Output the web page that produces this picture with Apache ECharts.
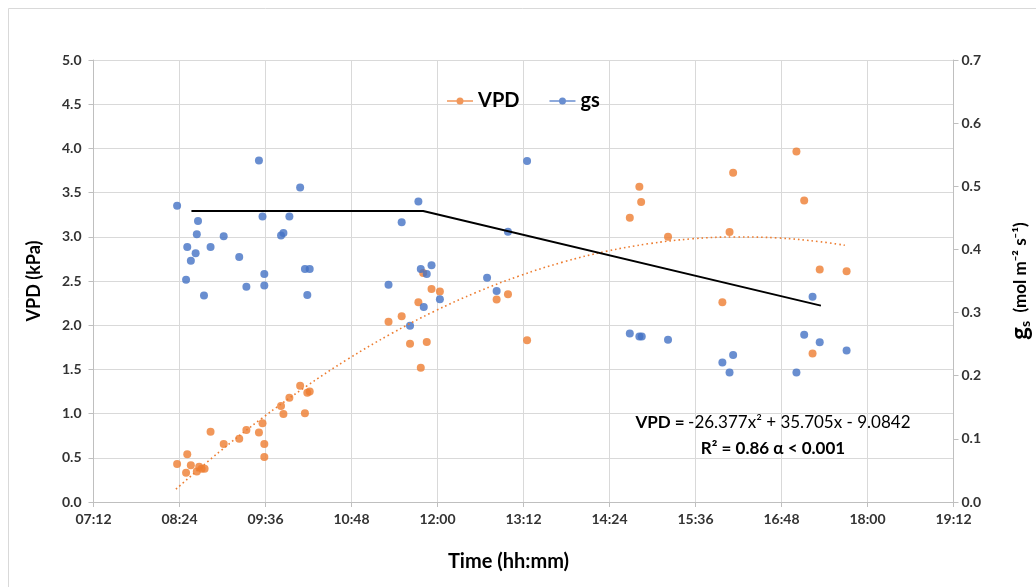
<!DOCTYPE html>
<html><head><meta charset="utf-8">
<script src="https://cdn.jsdelivr.net/npm/echarts@6/dist/echarts.min.js"></script>
<style>html,body{margin:0;padding:0;background:#fff}#c{width:1036px;height:587px}</style>
</head><body><div id="c"></div>
<script>
// Time in minutes since midnight
const vpdTimes = [502, 509.5, 510.5, 513.5, 518.5, 520.5, 522.5, 525, 530, 541, 554, 560, 570.5, 573.5, 575, 575, 589, 591, 596, 605, 609, 611, 613, 679, 690, 697, 704, 706, 708, 711, 715, 722, 769.5, 779, 795, 881, 889, 890.5, 913, 958.5, 964.5, 967.5, 1020.5, 1027, 1034, 1040, 1062.5];
const vpdValues = [0.43, 0.33, 0.54, 0.415, 0.345, 0.40, 0.375, 0.375, 0.795, 0.655, 0.715, 0.815, 0.785, 0.89, 0.655, 0.51, 1.085, 0.995, 1.18, 1.315, 1.005, 1.235, 1.25, 2.04, 2.10, 1.79, 2.26, 1.52, 2.59, 1.81, 2.41, 2.38, 2.29, 2.35, 1.83, 3.215, 3.565, 3.395, 3.0, 2.26, 3.055, 3.725, 3.965, 3.41, 1.68, 2.63, 2.61];
const gsTimes = [502, 509.5, 510.5, 513.5, 517.5, 518.5, 519.5, 524.5, 530, 541, 554, 560, 570.5, 573.5, 575, 575, 589, 591, 596, 605, 609, 611, 613, 679, 690, 697, 704, 706, 708.5, 711, 715, 722, 761.5, 769.5, 779, 795, 881, 889, 891, 913, 958.5, 964.5, 967.5, 1020.5, 1027, 1034, 1040, 1062.5];
const gsValues = [0.469, 0.352, 0.404, 0.382, 0.394, 0.424, 0.445, 0.327, 0.404, 0.421, 0.388, 0.341, 0.541, 0.452, 0.361, 0.343, 0.422, 0.426, 0.452, 0.498, 0.369, 0.328, 0.369, 0.344, 0.443, 0.279, 0.476, 0.369, 0.309, 0.361, 0.375, 0.321, 0.355, 0.334, 0.428, 0.540, 0.267, 0.262, 0.262, 0.257, 0.221, 0.205, 0.233, 0.205, 0.265, 0.325, 0.253, 0.240];
// Dotted polynomial trendline of VPD
const trendTimes = [501, 537, 573, 609, 645, 681, 717, 753, 789, 825, 861, 897, 933, 969, 1005, 1041, 1061];
const trendValues = [0.145, 0.563, 0.947, 1.298, 1.617, 1.902, 2.155, 2.374, 2.560, 2.714, 2.835, 2.922, 2.977, 2.998, 2.987, 2.943, 2.904];
// Black segmented line for gs
const gsFitTimes = [514, 708, 1041];
const gsFitValues = [0.461, 0.461, 0.311];
const seriesNames = ['VPD', 'gs'];
const colors = {VPD: '#ED7D31', gs: '#4472C4'};
const equationText = ['VPD =', '-26.377x² + 35.705x - 9.0842'];
const statsText = 'R² = 0.86 α < 0.001';

const FONT = 'Lato, "Liberation Sans", sans-serif';
const zip = (a, b) => a.map((t, i) => [t, b[i]]);
const fmtTime = m => {
  const h = Math.floor(Math.round(m) / 60), mm = Math.round(m) % 60;
  return String(h).padStart(2, '0') + ':' + String(mm).padStart(2, '0');
};
const legendIcon = 'path://M0,2.7H26V4.3H0Z M13,0 A3.5,3.5 0 1,1 13,7 A3.5,3.5 0 1,1 13,0Z';
const labelStyle = {color: '#333', fontSize: 14, fontWeight: 'bold', fontFamily: FONT};
const gridColor = '#d9d9d9';

const chart = echarts.init(document.getElementById('c'), null, {renderer: 'canvas'});
chart.setOption({
  backgroundColor: '#fff',
  animation: false,
  grid: {left: 93.5, right: 82.5, top: 60, bottom: 85, containLabel: false, outerBoundsMode: 'none'},
  legend: {
    left: 442, top: 86, itemWidth: 26, itemHeight: 7, itemGap: 30,
    data: seriesNames.map(n => ({name: n, icon: legendIcon})),
    textStyle: {fontSize: 20, fontWeight: 'bold', color: '#000', fontFamily: FONT}
  },
  xAxis: {
    type: 'value', min: 432, max: 1152, interval: 72,
    name: 'Time (hh:mm)', nameLocation: 'middle', nameGap: 50,
    nameTextStyle: {fontSize: 20, fontWeight: 'bold', color: '#000', fontFamily: FONT, padding: [0, 30, 0, 0]},
    axisLine: {lineStyle: {color: '#bfbfbf'}},
    axisTick: {show: true, length: 5, lineStyle: {color: '#bfbfbf'}},
    axisLabel: Object.assign({margin: 10, formatter: fmtTime}, labelStyle),
    splitLine: {show: true, lineStyle: {color: gridColor}}
  },
  yAxis: [{
    type: 'value', min: 0, max: 5, interval: 0.5,
    name: 'VPD (kPa)', nameLocation: 'middle', nameGap: 50, nameRotate: 90,
    nameTextStyle: {fontSize: 18, fontWeight: 'bold', color: '#000', fontFamily: FONT},
    axisLine: {show: true, lineStyle: {color: '#bfbfbf'}},
    axisTick: {show: true, length: 5, lineStyle: {color: '#bfbfbf'}},
    axisLabel: Object.assign({margin: 12, formatter: v => v.toFixed(1)}, labelStyle),
    splitLine: {show: true, lineStyle: {color: gridColor}}
  }, {
    type: 'value', min: 0, max: 0.7, interval: 0.1, position: 'right',
    name: '{g|g}{s|s}{u|  (mol m⁻² s⁻¹)}', nameLocation: 'middle', nameGap: 55, nameRotate: 90,
    nameTextStyle: {
      rich: {
        g: {fontSize: 24, fontWeight: 'bold', color: '#000', fontFamily: FONT},
        s: {fontSize: 14, fontWeight: 'bold', color: '#000', fontFamily: FONT, verticalAlign: 'bottom', padding: [8, 0, 0, 0]},
        u: {fontSize: 17, fontWeight: 'bold', color: '#000', fontFamily: FONT}
      }
    },
    axisLine: {show: true, lineStyle: {color: '#bfbfbf'}},
    axisTick: {show: true, length: 5, lineStyle: {color: '#bfbfbf'}},
    axisLabel: Object.assign({margin: 8, formatter: v => v.toFixed(1)}, labelStyle),
    splitLine: {show: false}
  }],
  series: [{
    name: 'VPD', type: 'scatter', yAxisIndex: 0, symbolSize: 8,
    itemStyle: {color: colors.VPD}, data: zip(vpdTimes, vpdValues), z: 3
  }, {
    name: 'gs', type: 'scatter', yAxisIndex: 1, symbolSize: 8,
    itemStyle: {color: colors.gs}, data: zip(gsTimes, gsValues), z: 4
  }, {
    name: 'VPD trend', type: 'line', yAxisIndex: 0, smooth: 0.4, showSymbol: false,
    lineStyle: {color: colors.VPD, width: 1.6, type: [1.6, 3]}, data: zip(trendTimes, trendValues), z: 5
  }, {
    name: 'gs fit', type: 'line', yAxisIndex: 1, showSymbol: false,
    lineStyle: {color: '#000', width: 2}, data: zip(gsFitTimes, gsFitValues), z: 6
  }],
  graphic: [{
    type: 'rect', silent: true, z: -10,
    shape: {x: 8.5, y: 8.5, width: 1100, height: 700},
    style: {fill: 'none', stroke: '#d9d9d9', lineWidth: 1}
  }, {
    type: 'text', x: 773, y: 423, z: 10,
    style: {
      text: '{b|' + equationText[0] + '} {n|' + equationText[1] + '}',
      align: 'center', verticalAlign: 'middle',
      rich: {
        b: {fontSize: 17, fontWeight: 'bold', fill: '#000', fontFamily: FONT},
        n: {fontSize: 17, fill: '#000', fontFamily: FONT}
      }
    }
  }, {
    type: 'text', x: 773, y: 449, z: 10,
    style: {
      text: statsText, align: 'center', verticalAlign: 'middle',
      fontSize: 17, fontWeight: 'bold', fill: '#000', fontFamily: FONT
    }
  }]
});
</script></body></html>
